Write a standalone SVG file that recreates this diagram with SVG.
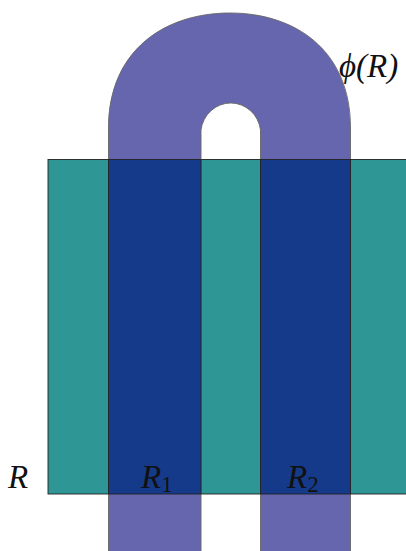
<svg xmlns="http://www.w3.org/2000/svg" width="406" height="551" viewBox="0 0 406 551">
<style>
.lbl{font-family:"Liberation Serif","DejaVu Serif",serif;font-style:italic;font-size:33px;fill:#111}
.sub{font-style:normal;font-size:23px}
</style>
<rect width="406" height="551" fill="#fff"/>
<g id="R">
<rect x="48" y="159.5" width="360" height="334.5" fill="#2e9694" stroke="#222" stroke-width="0.9"/>
</g>
<g id="phiR">
<path d="M108.5,552 V128 C108.5,50 165,13 230,13 C295,13 350.5,50 350.5,128 V552 H260.5 V130 A30,31 0 0 0 201,130 V552 Z" fill="#6666ae" stroke="#666" stroke-width="0.9"/>
</g>
<g id="R1">
<rect x="108.5" y="159.5" width="92.5" height="334.5" fill="#163a8a" stroke="#222" stroke-width="0.9"/>
</g>
<g id="R2">
<rect x="260.5" y="159.5" width="90" height="334.5" fill="#163a8a" stroke="#222" stroke-width="0.9"/>
</g>
<g id="labels">
<text class="lbl" x="8" y="488">R</text>
<text class="lbl" x="141" y="488">R<tspan class="sub" dy="4">1</tspan></text>
<text class="lbl" x="287" y="488">R<tspan class="sub" dy="4">2</tspan></text>
<text class="lbl" x="339" y="77">ϕ(R)</text>
</g>
</svg>
